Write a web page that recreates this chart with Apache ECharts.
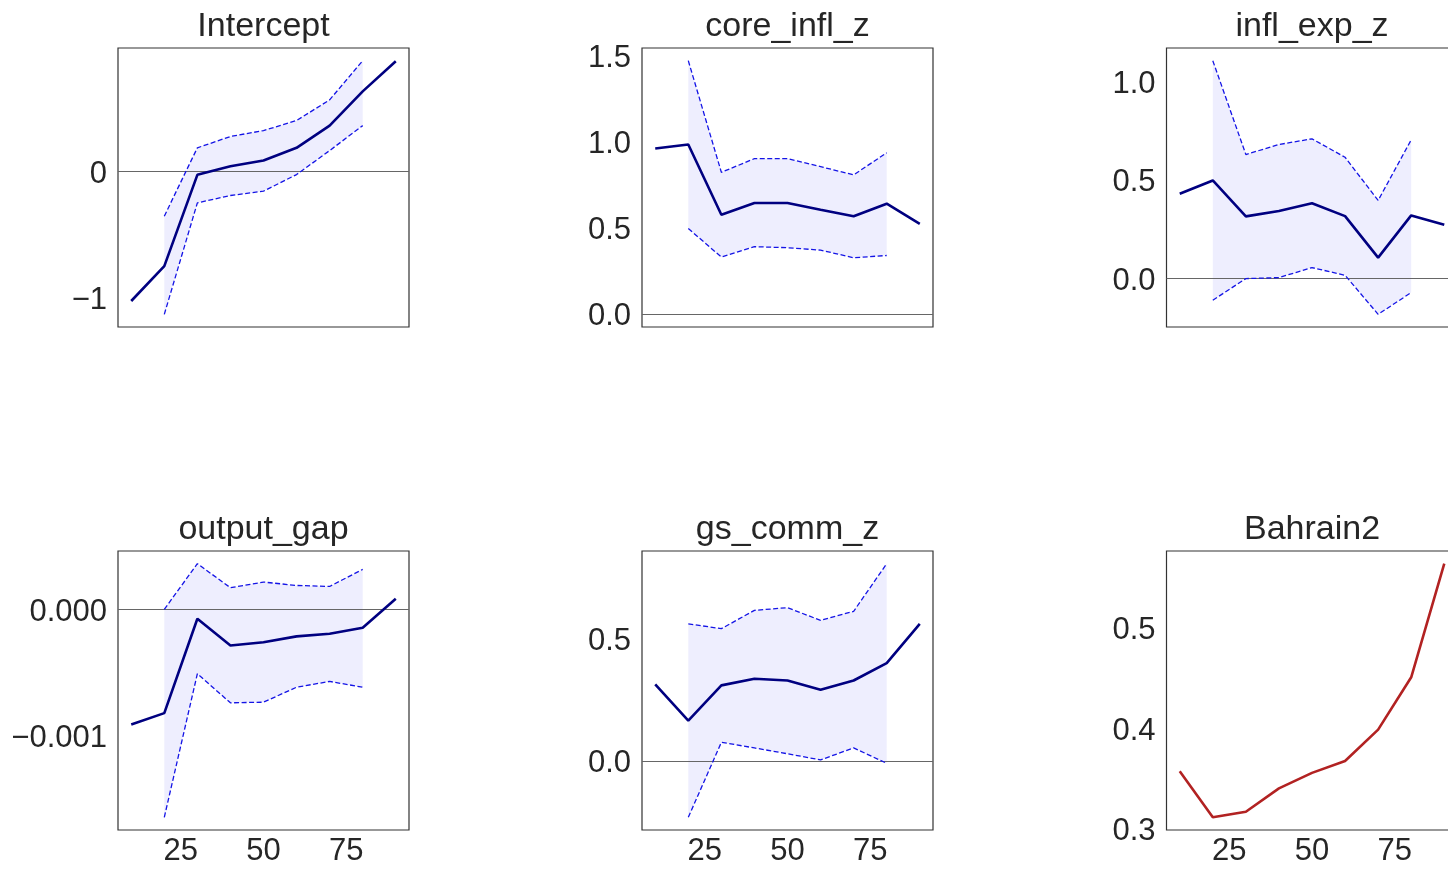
<!DOCTYPE html>
<html>
<head>
<meta charset="utf-8">
<script src="https://cdn.jsdelivr.net/npm/echarts@6/dist/echarts.min.js"></script>
<style>
  html, body { margin: 0; padding: 0; background: #ffffff; }
  #chart { width: 1448px; height: 869px; }
</style>
</head>
<body>
<div id="chart"></div>
<script>
// Quantile levels (in percent) at which each coefficient was estimated
const quantiles = [10, 20, 30, 40, 50, 60, 70, 80, 90];

// Intercept
const interceptCoef  = [-1.021, -0.746, -0.026, 0.042, 0.087, 0.187, 0.362, 0.632, 0.869];
const interceptUpper = [null, -0.352, 0.187, 0.276, 0.323, 0.402, 0.565, 0.874, null];
const interceptLower = [null, -1.126, -0.247, -0.189, -0.155, -0.024, 0.165, 0.362, null];
const interceptTicks = [-1, 0];

// core_infl_z
const coreInflCoef  = [0.961, 0.984, 0.577, 0.645, 0.645, 0.606, 0.568, 0.641, 0.524];
const coreInflUpper = [null, 1.470, 0.823, 0.902, 0.902, 0.856, 0.808, 0.936, null];
const coreInflLower = [null, 0.497, 0.332, 0.392, 0.386, 0.372, 0.328, 0.341, null];
const coreInflTicks = [0, 0.5, 1.0, 1.5];

// infl_exp_z
const inflExpCoef  = [0.432, 0.500, 0.317, 0.344, 0.384, 0.318, 0.107, 0.322, 0.274];
const inflExpUpper = [null, 1.110, 0.632, 0.683, 0.712, 0.618, 0.398, 0.707, null];
const inflExpLower = [null, -0.110, 0.000, 0.005, 0.056, 0.017, -0.182, -0.071, null];
const inflExpTicks = [0, 0.5, 1.0];

// output_gap
const outputGapCoef  = [-0.000913, -0.000822, -0.000072, -0.000284, -0.000258, -0.000212, -0.000191, -0.000143, 0.0000875];
const outputGapUpper = [null, 0.000003, 0.000366, 0.000175, 0.000220, 0.000193, 0.000185, 0.000321, null];
const outputGapLower = [null, -0.001650, -0.000509, -0.000740, -0.000735, -0.000616, -0.000570, -0.000616, null];
const outputGapTicks = [-0.001, 0];

// gs_comm_z
const gsCommCoef  = [0.313, 0.165, 0.309, 0.336, 0.329, 0.291, 0.329, 0.400, 0.561];
const gsCommUpper = [null, 0.561, 0.541, 0.616, 0.627, 0.575, 0.612, 0.807, null];
const gsCommLower = [null, -0.231, 0.076, 0.053, 0.029, 0.004, 0.053, -0.010, null];
const gsCommTicks = [0, 0.5];

// Bahrain2 (no interval)
const bahrainCoef  = [0.3576, 0.3116, 0.3172, 0.3404, 0.3559, 0.3678, 0.3990, 0.4512, 0.5645];
const bahrainTicks = [0.3, 0.4, 0.5];

const xTicks = [25, 50, 75];

const panels = [
  { title: 'Intercept',   coef: interceptCoef, upper: interceptUpper, lower: interceptLower, ticks: interceptTicks, decimals: 0, zero: true },
  { title: 'core_infl_z', coef: coreInflCoef,  upper: coreInflUpper,  lower: coreInflLower,  ticks: coreInflTicks,  decimals: 1, zero: true },
  { title: 'infl_exp_z',  coef: inflExpCoef,   upper: inflExpUpper,   lower: inflExpLower,   ticks: inflExpTicks,   decimals: 1, zero: true },
  { title: 'output_gap',  coef: outputGapCoef, upper: outputGapUpper, lower: outputGapLower, ticks: outputGapTicks, decimals: 3, zero: true },
  { title: 'gs_comm_z',   coef: gsCommCoef,    upper: gsCommUpper,    lower: gsCommLower,    ticks: gsCommTicks,    decimals: 1, zero: true },
  { title: 'Bahrain2',    coef: bahrainCoef,   upper: null,           lower: null,           ticks: bahrainTicks,   decimals: 1, zero: false, color: '#b22222' }
];

// Layout of the 2 x 3 grid of panels (the right column runs past the canvas edge)
const colLeft = [118, 642, 1166.5];
const rowTop = [48, 551];
const panelW = 291;
const panelH = 279;

const FONT = "'Liberation Sans', Arial, Helvetica, sans-serif";
const TEXT = '#262626';
const TICK_SIZE = 31;

const grids = [], xAxes = [], yAxes = [], series = [], graphics = [];

function fmt(v, d) {
  return v.toFixed(d).replace('-', '\u2212');
}

panels.forEach(function (p, i) {
  const row = Math.floor(i / 3), col = i % 3;
  const bottomRow = row === 1;

  grids.push({
    left: colLeft[col], top: rowTop[row], width: panelW, height: panelH,
    outerBoundsMode: 'none', containLabel: false,
    show: true, borderColor: '#333333', borderWidth: 1.2, backgroundColor: 'transparent'
  });

  // y limits: data extent with 5% padding on each side
  let vals = p.coef.slice();
  if (p.upper) vals = vals.concat(p.upper.filter(v => v != null), p.lower.filter(v => v != null));
  if (p.zero) vals.push(0);
  const lo = Math.min.apply(null, vals), hi = Math.max.apply(null, vals);
  const pad = (hi - lo) * 0.05;

  xAxes.push({
    type: 'value', gridIndex: i, min: 6, max: 94,
    axisLine: { show: false }, axisTick: { show: false }, splitLine: { show: false },
    axisLabel: {
      show: bottomRow, customValues: xTicks, margin: 6,
      fontFamily: FONT, fontSize: TICK_SIZE, color: TEXT
    }
  });
  yAxes.push({
    type: 'value', gridIndex: i, min: lo - pad, max: hi + pad,
    axisLine: { show: false }, axisTick: { show: false }, splitLine: { show: false },
    axisLabel: {
      customValues: p.ticks, margin: 11,
      fontFamily: FONT, fontSize: TICK_SIZE, color: TEXT,
      rich: { t: { fontFamily: FONT, fontSize: TICK_SIZE, color: TEXT, padding: [5, 0, 0, 0] } },
      formatter: (function (d) { return function (v) { return '{t|' + fmt(v, d) + '}'; }; })(p.decimals)
    }
  });

  if (p.upper) {
    const idx = quantiles.map((q, k) => k).filter(k => p.upper[k] != null && p.lower[k] != null);
    // shaded confidence band between lower and upper bounds
    series.push({
      type: 'custom', xAxisIndex: i, yAxisIndex: i, silent: true, z: 1,
      encode: { x: 0, y: 1 },
      data: idx.map(k => [quantiles[k], p.lower[k]]),
      renderItem: function (params, api) {
        if (params.dataIndex !== 0) return { type: 'group', children: [] };
        const pts = [];
        idx.forEach(k => pts.push(api.coord([quantiles[k], p.upper[k]])));
        idx.slice().reverse().forEach(k => pts.push(api.coord([quantiles[k], p.lower[k]])));
        return { type: 'polygon', shape: { points: pts }, style: { fill: 'rgba(0,0,240,0.065)' } };
      }
    });
    [p.upper, p.lower].forEach(function (bound) {
      series.push({
        type: 'line', xAxisIndex: i, yAxisIndex: i, silent: true, z: 3,
        showSymbol: false, symbol: 'none',
        data: idx.map(k => [quantiles[k], bound[k]]),
        lineStyle: { color: '#1414e6', width: 1.3, type: [5, 2.5] }
      });
    });
  }

  const coefSeries = {
    type: 'line', xAxisIndex: i, yAxisIndex: i, silent: true, z: 4,
    showSymbol: false, symbol: 'none',
    data: quantiles.map((q, k) => [q, p.coef[k]]),
    lineStyle: { color: p.color || '#000080', width: 2.6 }
  };
  if (p.zero) {
    coefSeries.markLine = {
      silent: true, symbol: 'none', label: { show: false }, z: 2,
      lineStyle: { color: '#666666', width: 1.1, type: 'solid' },
      data: [{ yAxis: 0 }]
    };
  }
  series.push(coefSeries);

  graphics.push({
    type: 'text', x: colLeft[col] + panelW / 2, y: rowTop[row] - 21,
    style: {
      text: p.title, font: '34px ' + FONT, fill: TEXT,
      align: 'center', verticalAlign: 'middle'
    }
  });
});

const chart = echarts.init(document.getElementById('chart'), null, { renderer: 'canvas' });
chart.setOption({
  animation: false,
  backgroundColor: '#ffffff',
  grid: grids,
  xAxis: xAxes,
  yAxis: yAxes,
  series: series,
  graphic: graphics
});
</script>
</body>
</html>
